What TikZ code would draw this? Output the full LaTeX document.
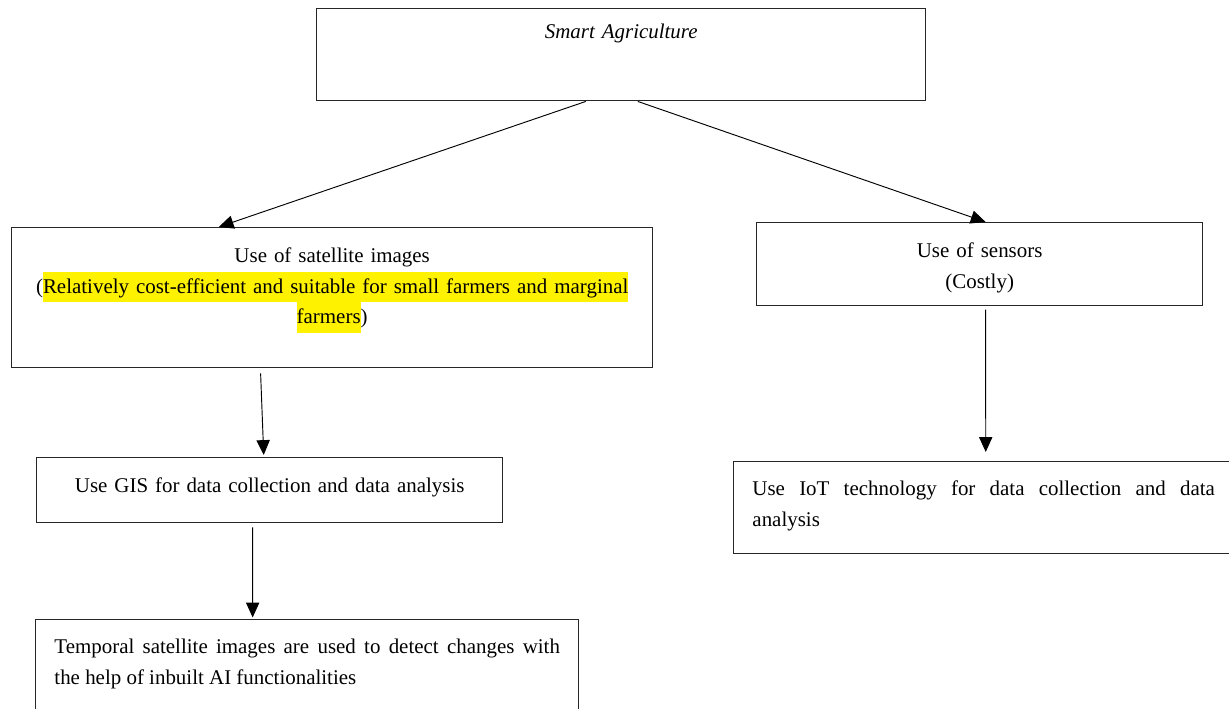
\documentclass[tikz,border=0pt]{standalone}
\usepackage{fontspec}
\setmainfont{Liberation Serif}
\usepackage{xcolor}
\usepackage{tikz}
\usetikzlibrary{arrows.meta}
\setlength{\fboxsep}{0pt}

\begin{document}
\begin{tikzpicture}[
  x=0.64pt, y=-0.64pt,
  block/.style={draw=black!85, line width=0.9pt, anchor=north west, align=center,
    inner xsep=0pt, inner ysep=0pt, text height=22.4pt,
    font=\fontsize{13.4}{19.5}\selectfont},
  note/.style={block, align=justify, inner xsep=12pt},
  arrow/.style={-{Triangle[length=9.5pt, width=8.5pt]}, line width=0.6pt}
]
\useasboundingbox (0,0) rectangle (1229,708);
\clip (0,0) rectangle (1229,708);

\node[block, text width=389.8pt, text height=19.2pt, text depth=39.7pt] (smart) at (316,8)
  {\textit{Smart Agriculture}};
\node[block, text width=410.2pt, text depth=67.2pt] (satellite) at (11,227)
  {Use of satellite images\\(\colorbox{yellow}{\strut Relatively cost-efficient and suitable for small farmers and marginal}\\\colorbox{yellow}{\strut farmers})};
\node[block, text width=285.4pt, text depth=30.7pt] (sensors) at (756,222)
  {Use of sensors\\(Costly)};
\node[block, text width=298.2pt, text depth=19.2pt] (gis) at (36,457)
  {Use GIS for data collection and data analysis};
\node[note, text width=323.5pt, text height=21.8pt, text depth=42.9pt] (temporal) at (35,619)
  {Temporal satellite images are used to detect changes with\linebreak the help of inbuilt AI functionalities};
\node[note, text width=296pt, text height=21.8pt, text depth=37.1pt] (iot) at (733,461)
  {Use IoT technology for data collection and data\linebreak analysis};

\draw[arrow] ([xshift=-22.7pt]smart.south) -- ([xshift=-72.6pt]satellite.north);
\draw[arrow] ([xshift=10.6pt]smart.south) -- ([xshift=3.8pt]sensors.north);
\draw[arrow] ([xshift=-45.8pt, yshift=-3.2pt]satellite.south) -- ([xshift=-3.8pt, yshift=1.3pt]gis.north);
\draw[arrow] ([xshift=3.8pt, yshift=-2pt]sensors.south) -- ([xshift=1.3pt, yshift=5.8pt]iot.north);
\draw[arrow] ([xshift=-10.9pt, yshift=-2.6pt]gis.south) -- ([xshift=-34.9pt, yshift=1pt]temporal.north);
\end{tikzpicture}
\end{document}
